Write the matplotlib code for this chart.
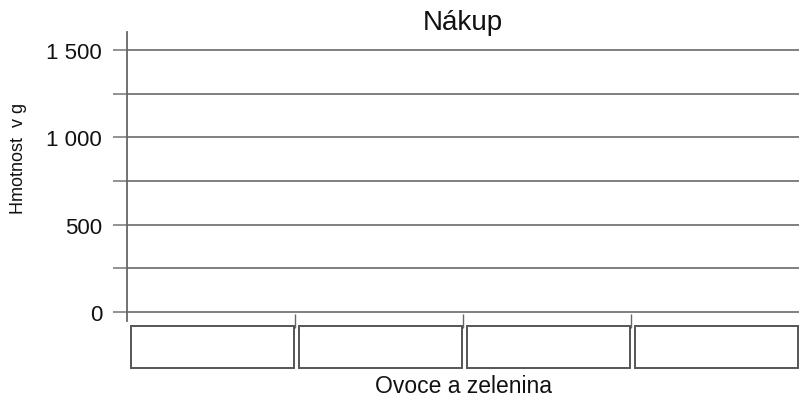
import matplotlib.pyplot as plt
from matplotlib.patches import Rectangle
from matplotlib.transforms import blended_transform_factory

# Data (empty worksheet chart: category names left blank to be filled in)
categories = ["", "", "", ""]
values = [0, 0, 0, 0]
major_ticks = [0, 500, 1000, 1500]
major_labels = ["0", "500", "1 000", "1 500"]
minor_ticks = [250, 750, 1250]

plt.rcParams['font.family'] = ['Liberation Sans', 'DejaVu Sans']

W, H = 799, 402
fig = plt.figure(figsize=(W / 100, H / 100), dpi=100)
ax = fig.add_axes([127 / W, (H - 322) / H, 672 / W, 289 / H])

grid_col = '#7f7f7f'
ax.bar(range(len(categories)), values, width=1.0, align='edge', color='#777777')

ax.set_xlim(0, len(categories))
ax.set_ylim(-52, 1603)
ax.set_yticks(major_ticks)
ax.set_yticklabels(major_labels)
ax.set_yticks(minor_ticks, minor=True)
ax.grid(True, which='both', axis='y', color=grid_col, lw=1.4)
ax.set_axisbelow(True)

ax.tick_params(axis='y', which='both', length=10, width=1.2, color=grid_col,
               labelsize=16, pad=8, labelcolor='#111111')
ax.set_xticks(range(1, len(categories)))
ax.tick_params(axis='x', which='both', direction='inout', length=10, width=1.0,
               color='#666666', labelbottom=False)

for s in ['top', 'right', 'bottom']:
    ax.spines[s].set_visible(False)
ax.spines['left'].set_color('#666666')
ax.spines['left'].set_linewidth(1.3)

# label boxes under each category
trans = blended_transform_factory(ax.transData, ax.transAxes)
for i, name in enumerate(categories):
    ax.add_patch(Rectangle((i + 0.022, -0.163), 0.97, 0.145, transform=trans,
                           fill=False, ec='#555555', lw=1.4, clip_on=False))
    ax.text(i + 0.5, -0.09, name, transform=trans, ha='center', va='center', fontsize=13)

fig.text(463 / W, 1 - 23 / H, 'Nákup', ha='center', va='center', fontsize=20, color='#111111')
fig.text(464 / W, 1 - 387 / H, 'Ovoce a zelenina', ha='center', va='center', fontsize=16.5, color='#111111')
fig.text(19 / W, 1 - 158 / H, 'Hmotnost  v g', ha='center', va='center', rotation=90,
         fontsize=13, color='#111111')

fig.savefig('out.png', dpi=100, facecolor='white')
